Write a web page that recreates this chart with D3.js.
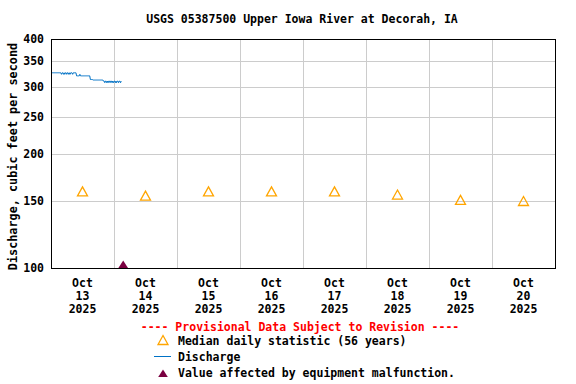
<!DOCTYPE html>
<meta charset='utf-8'>
<style>
html, body {
  margin: 0;
  padding: 0;
  background: #fff;
}
text {
  font-family: 'DejaVu Sans Mono', monospace;
  font-weight: bold;
  font-size: 11.5px;
  fill: #000;
}
.grid line {
  stroke: #ccc;
  stroke-width: 1;
}
</style>
<body>
<div id='container'></div>
<script src='https://cdn.jsdelivr.net/npm/d3@7/dist/d3.min.js'></script>
<script>

// data
var title = 'USGS 05387500 Upper Iowa River at Decorah, IA';
var yTicks = [100, 150, 200, 250, 300, 350, 400];
var dayLabels = ['13', '14', '15', '16', '17', '18', '19', '20'];
var medianDays = [13, 14, 15, 16, 17, 18, 19, 20];
var medianValues = [159, 155, 159, 159, 159, 156, 151, 150];
// 15-minute discharge readings starting Oct 13 2025 00:00
var dischargeValues = [
  326, 326, 326, 326, 326, 326, 326, 326, 326, 326, 326, 326, 326, 326, 326, 326,
  323, 326, 326, 323, 326, 323, 326, 326, 323, 326, 326, 323, 326, 323, 326, 326,
  326, 323, 326, 326, 326, 326, 326,
  320, 320, 320, 320, 320, 323, 320, 320, 320, 320, 320, 320, 320, 320, 320, 320,
  320, 320, 320, 320, 320,
  313, 313, 313, 313,
  312, 312, 312, 312, 312, 312, 312, 312, 312, 312, 312, 312, 312, 312, 312, 312,
  310, 310, 307, 310, 310, 307, 310, 307, 310, 310, 307, 310, 310, 307, 310, 307,
  310, 310, 307, 310, 307, 310, 310, 307, 310, 310, 307, 310
];
var malfunctionTimes = [[14, 3, 30]];   // [day, hour, minute]
var malfunctionValues = [100];

var width = 576, height = 384;
var margin = {left: 51, right: 21, top: 39, bottom: 116};

var svg = d3.select('#container').append('svg')
    .attr('width', width)
    .attr('height', height);

var x = d3.scaleTime()
    .domain([new Date(2025, 9, 13), new Date(2025, 9, 21)])
    .range([margin.left, width - margin.right]);

var y = d3.scaleLog()
    .domain([100, 400])
    .range([height - margin.bottom, margin.top]);

// grid
var grid = svg.append('g').attr('class', 'grid');
grid.selectAll('line.h')
  .data(yTicks.slice(1, -1))
  .enter().append('line')
    .attr('x1', x.range()[0]).attr('x2', x.range()[1])
    .attr('y1', function(d) { return Math.round(y(d)) + 0.5; })
    .attr('y2', function(d) { return Math.round(y(d)) + 0.5; });
grid.selectAll('line.v')
  .data(d3.timeDay.range(new Date(2025, 9, 14), new Date(2025, 9, 21)))
  .enter().append('line')
    .attr('x1', function(d) { return Math.round(x(d)) + 0.5; })
    .attr('x2', function(d) { return Math.round(x(d)) + 0.5; })
    .attr('y1', y.range()[1]).attr('y2', y.range()[0]);

// y axis labels
svg.append('g').selectAll('text')
  .data(yTicks)
  .enter().append('text')
    .attr('x', 44)
    .attr('y', function(d) { return y(d) + 4; })
    .attr('text-anchor', 'end')
    .text(function(d) { return d; });

svg.append('text')
    .attr('transform', 'translate(17,' + ((y.range()[0] + y.range()[1]) / 2 + 3) + ') rotate(-90)')
    .attr('text-anchor', 'middle')
    .style('font-size', '11.8px')
    .text('Discharge, cubic feet per second');

// x axis labels (centered at noon)
var xl = svg.append('g').selectAll('g')
  .data(dayLabels)
  .enter().append('g')
    .attr('transform', function(d) {
      return 'translate(' + x(new Date(2025, 9, +d, 12)) + ',0)';
    });
xl.append('text').attr('y', 287).attr('text-anchor', 'middle').text('Oct');
xl.append('text').attr('y', 300).attr('text-anchor', 'middle').text(function(d) { return d; });
xl.append('text').attr('y', 313).attr('text-anchor', 'middle').text('2025');

// discharge line
var t0 = new Date(2025, 9, 13);
var line = d3.line()
    .x(function(d, i) { return x(d3.timeMinute.offset(t0, i * 15)); })
    .y(function(d) { return y(d); });
svg.append('path')
    .datum(dischargeValues)
    .attr('d', line)
    .attr('fill', 'none')
    .attr('stroke', '#0072c6')
    .attr('stroke-width', 1);

// median triangles
var tri = 'M0,-4.5L5,4.5L-5,4.5Z';
svg.append('g').selectAll('path')
  .data(medianDays)
  .enter().append('path')
    .attr('d', tri)
    .attr('transform', function(d, i) {
      return 'translate(' + x(new Date(2025, 9, d, 12)) + ',' + y(medianValues[i]) + ')';
    })
    .attr('fill', 'none')
    .attr('stroke', '#ffa500')
    .attr('stroke-width', 1.3);

// malfunction marker
var mtri = 'M0,-7.5L4.8,0L-4.8,0Z';
svg.append('g').selectAll('path')
  .data(malfunctionTimes)
  .enter().append('path')
    .attr('d', mtri)
    .attr('transform', function(d, i) {
      return 'translate(' + x(new Date(2025, 9, d[0], d[1], d[2])) + ',' + y(malfunctionValues[i]) + ')';
    })
    .attr('fill', '#7a0040');

// frame
svg.append('rect')
    .attr('x', margin.left + 0.5).attr('y', margin.top + 0.5)
    .attr('width', width - margin.left - margin.right)
    .attr('height', height - margin.top - margin.bottom)
    .attr('fill', 'none')
    .attr('stroke', '#000');

// title
svg.append('text')
    .attr('x', 302).attr('y', 23)
    .attr('text-anchor', 'middle')
    .text(title);

// legend
svg.append('text')
    .attr('x', 300).attr('y', 331)
    .attr('text-anchor', 'middle')
    .style('fill', '#f00')
    .text('---- Provisional Data Subject to Revision ----');

var leg = svg.append('g');
leg.append('path').attr('d', tri)
    .attr('transform', 'translate(163,340)')
    .attr('fill', 'none').attr('stroke', '#ffa500').attr('stroke-width', 1.3);
leg.append('text').attr('x', 178).attr('y', 345).text('Median daily statistic (56 years)');
leg.append('line')
    .attr('x1', 154).attr('x2', 171).attr('y1', 356.5).attr('y2', 356.5)
    .attr('stroke', '#0072c6');
leg.append('text').attr('x', 178).attr('y', 361).text('Discharge');
leg.append('path').attr('d', mtri)
    .attr('transform', 'translate(163,377)')
    .attr('fill', '#7a0040');
leg.append('text').attr('x', 178).attr('y', 377).text('Value affected by equipment malfunction.');

</script>
</body>
